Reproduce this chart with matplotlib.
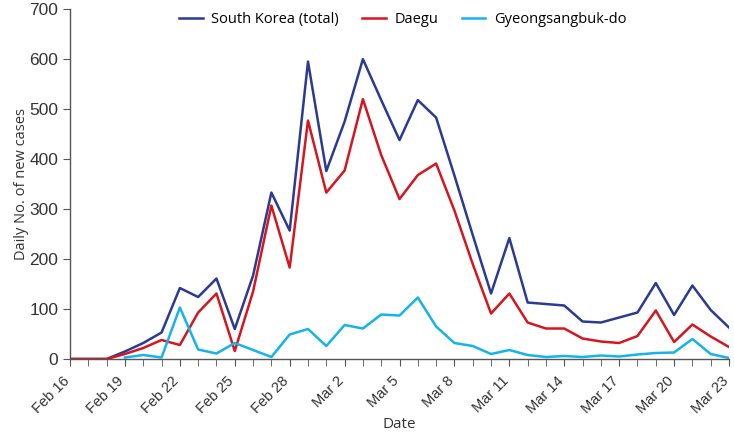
import numpy as np
import pandas as pd
import matplotlib
matplotlib.use("Agg")
import matplotlib.pyplot as plt
import matplotlib.dates as mdates
from matplotlib.transforms import ScaledTranslation

# daily new cases, Feb 16 - Mar 23 2020
dates = pd.date_range("2020-02-16", "2020-03-23", freq="D")
korea = [0, 0, 0, 15, 32, 53, 142, 124, 161, 60, 167, 333, 257, 595,
         376, 475, 600, 518, 438, 518, 483, 367, 248, 131, 242, 113,
         110, 107, 75, 73, 83, 93, 152, 88, 147, 98, 63]
daegu = [0, 0, 0, 10, 22, 38, 28, 93, 131, 16, 135, 307, 183, 477,
         333, 377, 520, 408, 320, 368, 391, 297, 190, 91, 131, 73,
         61, 61, 41, 35, 32, 46, 97, 34, 69, 45, 24]
gyeongbuk = [np.nan, np.nan, np.nan, 3, 8, 3, 103, 19, 11, 32, 18, 4, 49, 60,
             26, 68, 61, 89, 87, 123, 65, 32, 26, 10, 18, 8,
             4, 6, 4, 7, 5, 9, 12, 13, 40, 10, 2]

label_font = ["Open Sans", "DejaVu Sans"]
tick_font = ["Liberation Sans Narrow", "Liberation Sans", "DejaVu Sans"]

fig = plt.figure(figsize=(7.34, 4.34), dpi=100)
ax = fig.add_axes([0.0954, 0.1728, 0.8978, 0.8062])

ax.plot(dates, korea, color="#2b3a92", lw=1.8, label="South Korea (total)")
ax.plot(dates, daegu, color="#d6161f", lw=1.8, label="Daegu")
ax.plot(dates, gyeongbuk, color="#14b4ea", lw=1.8, label="Gyeongsangbuk-do")

ax.set_xlim(dates[0], dates[-1])
ax.set_ylim(0, 700)
ax.set_yticks(range(0, 701, 100))
ax.xaxis.set_minor_locator(mdates.DayLocator())
ax.set_xticks(dates[::3])
ax.set_xticklabels([d.strftime("%b ") + str(d.day) for d in dates[::3]],
                   rotation=45, ha="right", rotation_mode="anchor",
                   family=tick_font, fontsize=10.5, color="#333333")
for lab in ax.get_yticklabels():
    lab.set_family(tick_font)
    lab.set_fontsize(12.5)
    lab.set_color("#333333")

for side in ["top", "right"]:
    ax.spines[side].set_visible(False)
for side in ["left", "bottom"]:
    ax.spines[side].set_color("#555555")
    ax.spines[side].set_linewidth(1.0)
ax.tick_params(axis="both", which="major", direction="out", length=5,
               color="#555555")
ax.tick_params(axis="x", which="minor", direction="out", length=5,
               color="#555555")

ax.set_ylabel("Daily No. of new cases", family=label_font, fontsize=10.5,
              color="#333333")
ax.yaxis.set_label_coords(-0.062, 0.5)
ax.set_xlabel("Date", family=label_font, fontsize=11, color="#333333")
ax.xaxis.set_label_coords(0.5, -0.165)

ax.legend(loc="upper center", bbox_to_anchor=(0.505, 1.03), ncol=3,
          frameon=False, handlelength=1.6, handletextpad=0.6,
          columnspacing=1.6, prop={"family": label_font, "size": 10.5})

# nudge the rotated labels left so the last one stays inside the figure
fig.canvas.draw()
shift = ScaledTranslation(-0.08, -0.03, fig.dpi_scale_trans)
for tick in ax.xaxis.get_major_ticks():
    tick.label1.set_transform(tick.label1.get_transform() + shift)

fig.savefig("out.png", dpi=100)
